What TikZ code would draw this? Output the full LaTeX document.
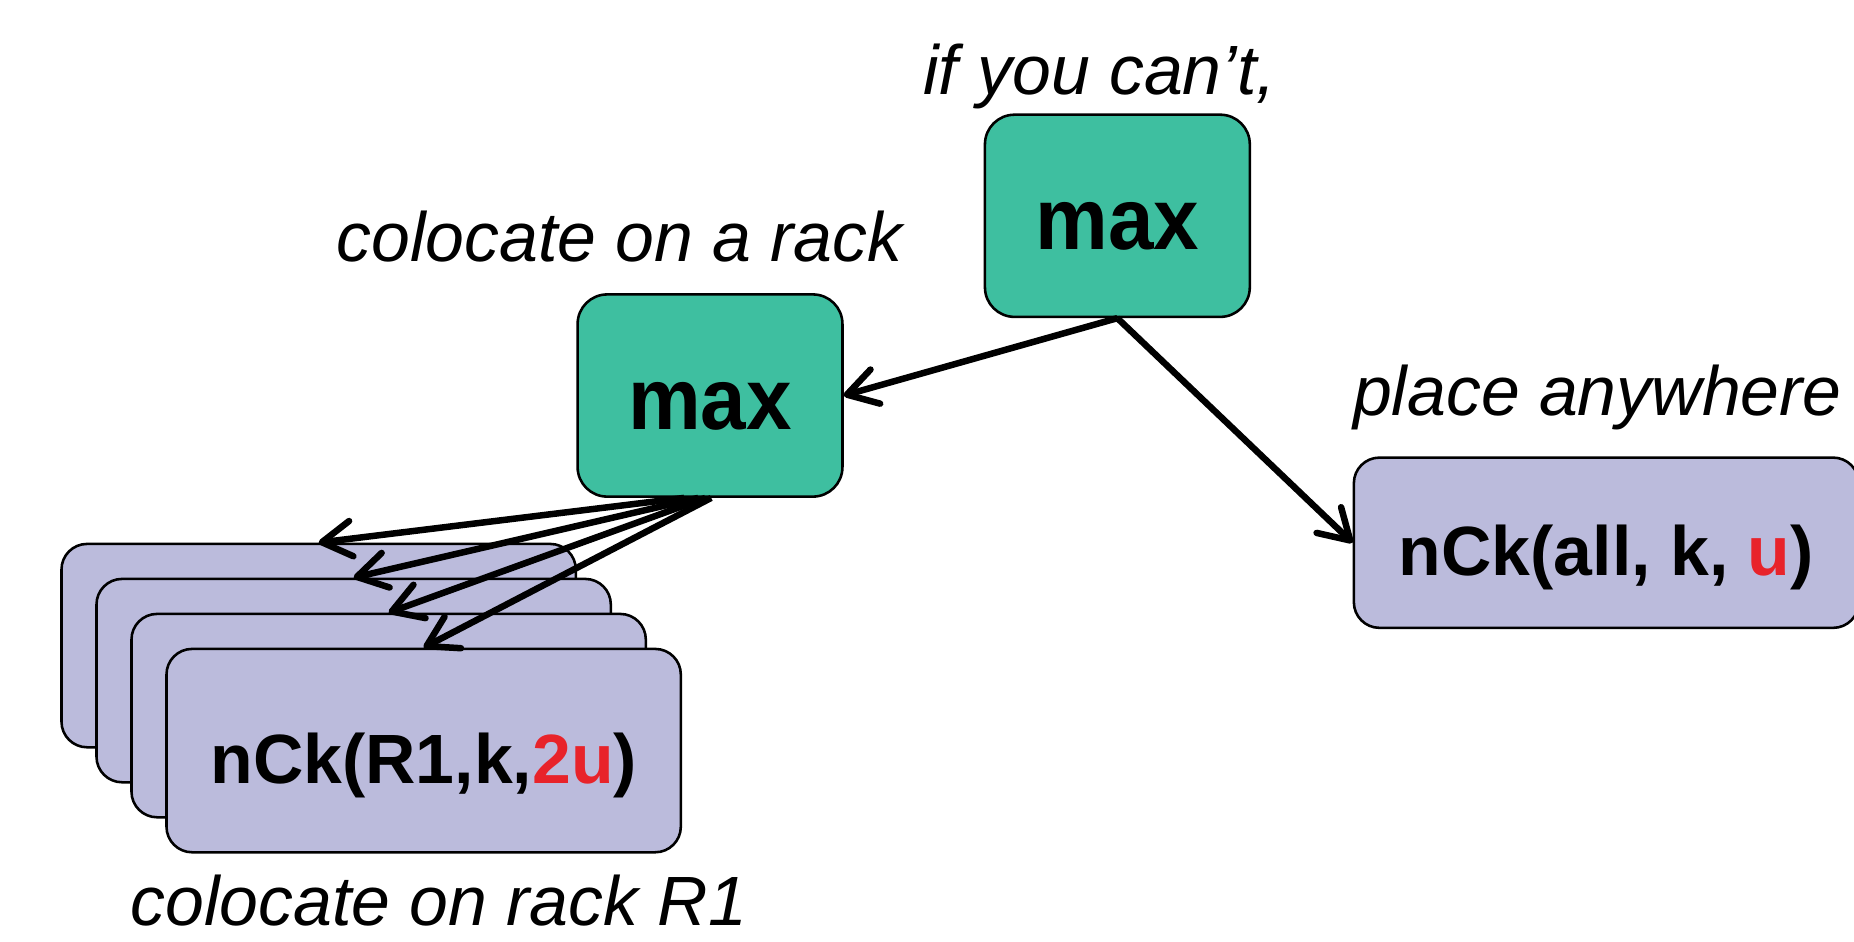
\documentclass[tikz,border=0pt]{standalone}
\usepackage{fontspec}
\setmainfont{Liberation Sans}
\usetikzlibrary{arrows.meta,calc}
\definecolor{maxgreen}{RGB}{62,191,160}
\definecolor{setblue}{RGB}{187,187,220}
\definecolor{hired}{RGB}{232,35,42}

% box text: lowered inside its node without changing the node's size
\newcommand{\maxlabel}{\raisebox{-5.5pt}[\height][\depth]{\scalebox{1}[1.07]{max}}}
\newcommand{\setlabel}[1]{\raisebox{-7.4pt}[\height][\depth]{#1}}

\begin{document}
\begin{tikzpicture}[x=0.6pt,y=-0.6pt,
  maxbox/.style={draw=black, line width=1.3pt, fill=maxgreen, rounded corners=15pt,
    minimum width=134.4pt, minimum height=102.6pt, inner sep=0pt,
    font=\fontsize{41.5}{42}\selectfont\bfseries},
  setbox/.style={draw=black, line width=1.3pt, fill=setblue, rounded corners=13pt,
    inner sep=0pt, font=\fontsize{35.4}{40}\selectfont\bfseries},
  rackbox/.style={setbox, minimum width=261pt, minimum height=103.2pt},
  caption/.style={anchor=base, inner sep=0pt, font=\fontsize{35.4}{40}\selectfont\itshape},
  link/.style={line width=3.3pt, -{Straight Barb[length=15pt,width=18pt,round]}}
]
\useasboundingbox (0,0) rectangle (1568,796);

% decision nodes
\node[maxbox] (topmax) at (945,182.5) {\maxlabel};
\node[maxbox] (midmax) at (600.5,334.5) {\maxlabel};

% placement anywhere
\node[setbox, minimum width=256.2pt, minimum height=86.4pt] (all) at (1358.5,459)
  {\setlabel{nCk(all, k, \textcolor{hired}{u})}};

% stack of per-rack placements, back to front
\node[rackbox] (s1) at (269.5,546) {};
\node[rackbox] (s2) at (299.1,575.6) {};
\node[rackbox] (s3) at (328.7,605.2) {};
\node[rackbox] (s4) at (358.3,634.8) {\setlabel{nCk(R1,k,\textcolor{hired}{2u})}};

% captions
\node[caption] (cant) at (930,80) {if you can’t,};
\node[caption] (onrack) at (524,221) {colocate on a rack};
\node[caption] (anywhere) at (1351,351) {place anywhere};
\node[caption] (onr1) at (371,783) {colocate on rack R1};

% connectors
\draw[link] (topmax.south) -- (midmax.east);
\draw[link] (topmax.south) -- (all.west);
\draw[link] ($(midmax.south)+(-22,0)$) -- (s1.north);
\draw[link] ($(midmax.south)+(-10,0)$) -- (s2.north);
\draw[link] ($(midmax.south)+(-4,0)$) -- (s3.north);
\draw[link] ($(midmax.south)+(1,0)$) -- (s4.north);
\end{tikzpicture}
\end{document}
